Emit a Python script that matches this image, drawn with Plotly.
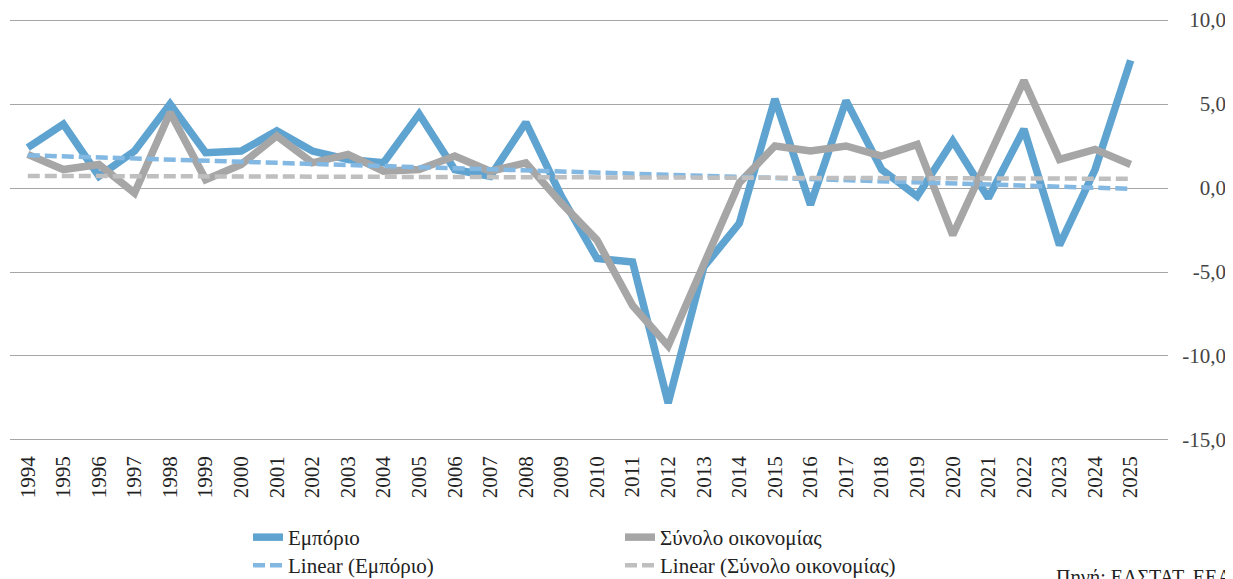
import plotly.graph_objects as go

# annual % change
years = list(range(1994, 2026))
trade = [2.4, 3.8, 0.7, 2.2, 5.0, 2.1, 2.2, 3.4, 2.2, 1.7, 1.5, 4.4, 1.1, 0.7, 3.9, -0.5,
         -4.2, -4.4, -12.8, -4.7, -2.1, 5.3, -1.0, 5.2, 1.1, -0.5, 2.8, -0.6, 3.5, -3.4, 1.1, 7.6]
economy = [2.0, 1.1, 1.4, -0.3, 4.5, 0.5, 1.4, 3.1, 1.5, 2.0, 1.0, 1.1, 1.9, 1.0, 1.5, -0.9,
           -3.1, -7.0, -9.4, -4.6, 0.3, 2.5, 2.2, 2.5, 1.9, 2.6, -2.8, 1.8, 6.4, 1.7, 2.3, 1.4]

# linear trend lines (end points)
trend_years = [1994, 2025]
trend_trade = [1.95, -0.05]
trend_economy = [0.72, 0.55]

y_ticks = [-15, -10, -5, 0, 5, 10]
y_labels = ["-15,0", "-10,0", "-5,0", "0,0", "5,0", "10,0"]

BLUE = "#5fa3d0"
BLUE_T = "#82b8e2"
GREY = "#a6a6a6"
GREY_T = "#bfbfbf"
FONT = "Liberation Serif, Times New Roman, Times, serif"

# the page has an 8px body margin, so the figure is 8px smaller than the window
W, H = 1225, 571
L, T, B = 2, 10, 137
PW = W - L          # paper width (r = 0)
PH = H - T - B      # plot height
BOTTOM = T + PH

fig = go.Figure()
fig.add_trace(go.Scatter(x=years, y=trade, mode="lines", name="Εμπόριο",
                         line=dict(color=BLUE, width=7.5), legend="legend"))
fig.add_trace(go.Scatter(x=years, y=economy, mode="lines", name="Σύνολο οικονομίας",
                         line=dict(color=GREY, width=7.5), legend="legend2"))
fig.add_trace(go.Scatter(x=trend_years, y=trend_trade, mode="lines", name="Linear (Εμπόριο)",
                         line=dict(color=BLUE_T, width=4.5, dash="12px,5px"), legend="legend3"))
fig.add_trace(go.Scatter(x=trend_years, y=trend_economy, mode="lines",
                         name="Linear (Σύνολο οικονομίας)",
                         line=dict(color=GREY_T, width=4.5, dash="12px,5px"), legend="legend4"))

leg = dict(orientation="v", xanchor="left", yanchor="top",
           font=dict(size=21), bgcolor="rgba(0,0,0,0)")
row1 = -(509 - BOTTOM) / PH
row2 = -(537 - BOTTOM) / PH
col1 = (240 - L) / PW
col2 = (612 - L) / PW

fig.update_layout(
    width=W, height=H,
    margin=dict(l=L, r=0, t=T, b=B, autoexpand=False),
    paper_bgcolor="white", plot_bgcolor="white",
    font=dict(family=FONT, size=20, color="#222"),
    showlegend=True,
    legend=dict(leg, x=col1, y=row1),
    legend2=dict(leg, x=col2, y=row1),
    legend3=dict(leg, x=col1, y=row2),
    legend4=dict(leg, x=col2, y=row2),
    xaxis=dict(domain=[0, 1158 / PW], range=[1993.5, 2026.05],
               tickmode="array", tickvals=years, ticktext=[str(y) for y in years],
               tickangle=-90, showgrid=False, zeroline=False, showline=False,
               ticks="", ticklabelstandoff=9, tickfont=dict(size=21)),
    yaxis=dict(range=[-15.12, 10.12], tickmode="array", tickvals=y_ticks,
               ticktext=y_labels, side="right",
               anchor="free", position=1.0, ticklabelposition="inside",
               ticklabeloverflow="allow",
               showgrid=True, gridcolor="#a6a6a6",
               gridwidth=1, zeroline=False, showline=False, ticks="",
               ticklabelstandoff=4, tickfont=dict(size=21)),
)

fig.add_annotation(text="Πηγή: ΕΛΣΤΑΤ, ΕΕΑ", xref="paper", yref="paper",
                   x=(1046 - L) / PW, y=-(556 - BOTTOM) / PH, xanchor="left",
                   yanchor="top", showarrow=False, font=dict(size=20))

fig.write_html("out.html")
